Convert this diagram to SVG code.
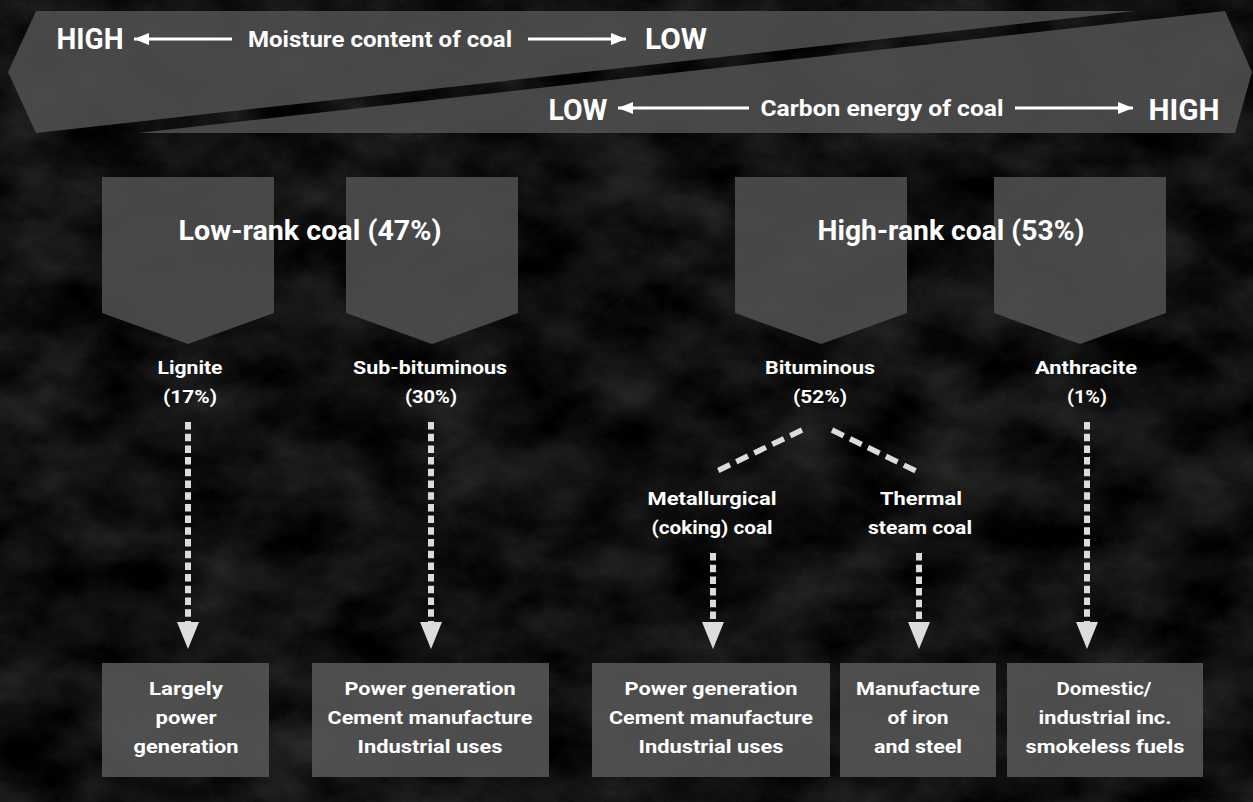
<svg xmlns="http://www.w3.org/2000/svg" width="1253" height="802" viewBox="0 0 1253 802">
<defs>
<filter id="tex" x="0" y="0" width="1253" height="802" filterUnits="userSpaceOnUse" color-interpolation-filters="sRGB">
<feTurbulence type="fractalNoise" baseFrequency="0.012 0.018" numOctaves="5" seed="7" result="n"/>
<feColorMatrix in="n" type="matrix" values="0.24 0 0 0 -0.06  0.24 0 0 0 -0.06  0.24 0 0 0 -0.06  0 0 0 0 1"/>
</filter>
<filter id="grain" x="0" y="0" width="1253" height="802" filterUnits="userSpaceOnUse" color-interpolation-filters="sRGB">
<feTurbulence type="fractalNoise" baseFrequency="0.4" numOctaves="2" seed="2"/>
<feColorMatrix type="matrix" values="0 0 0 0 1  0 0 0 0 1  0 0 0 0 1  0.35 0 0 0 -0.15"/>
</filter>
<marker id="ah" markerUnits="userSpaceOnUse" markerWidth="18" markerHeight="14" refX="15" refY="6" orient="auto">
<path d="M0,0 L15,6 L0,12 z" fill="#ffffff"/>
</marker>
<marker id="dh" markerUnits="userSpaceOnUse" markerWidth="28" markerHeight="24" refX="0" refY="11" orient="auto">
<path d="M0,0 L27,11 L0,22 z" fill="#dcdcdc"/>
</marker>
<style>
.t{font-family:Roboto,"Liberation Sans",sans-serif;font-weight:700;fill:#ffffff;text-anchor:middle}
.big{font-size:29px}
.axis{font-size:22px}
.head{font-size:27px}
.lab{font-size:19px}
.box{font-size:19px}
.shape{fill:#505050;fill-opacity:0.88}
.bx{fill:#565656;fill-opacity:0.88}
.dash{stroke:#dcdcdc;stroke-width:6;fill:none;stroke-dasharray:7.5 4.2}
.diag{stroke:#dcdcdc;stroke-width:5.5;fill:none;stroke-dasharray:13 7}
.arr{stroke:#ffffff;stroke-width:2.8;fill:none}
</style>
</defs>

<rect x="0" y="0" width="1253" height="802" fill="#0e0e0e"/>
<rect x="0" y="0" width="1253" height="802" filter="url(#tex)"/>
<rect x="0" y="0" width="1253" height="802" filter="url(#grain)" opacity="0.12"/>

<g id="banner">
<polygon class="shape" points="36,11 1135,11 36,133 8,72"/>
<polygon class="shape" points="138,133 1225,11 1252,72 1235,133"/>
<text class="t big" x="90" y="49" textLength="67" lengthAdjust="spacingAndGlyphs">HIGH</text>
<text class="t axis" x="380" y="47" textLength="264" lengthAdjust="spacingAndGlyphs">Moisture content of coal</text>
<text class="t big" x="676" y="49" textLength="62" lengthAdjust="spacingAndGlyphs">LOW</text>
<text class="t big" x="578" y="120" textLength="59" lengthAdjust="spacingAndGlyphs">LOW</text>
<text class="t axis" x="882" y="116" textLength="243" lengthAdjust="spacingAndGlyphs">Carbon energy of coal</text>
<text class="t big" x="1184" y="120" textLength="71" lengthAdjust="spacingAndGlyphs">HIGH</text>
</g>

<g id="connectors">
<line class="arr" x1="232" y1="39" x2="134" y2="39" marker-end="url(#ah)"/>
<line class="arr" x1="528" y1="39" x2="626" y2="39" marker-end="url(#ah)"/>
<line class="arr" x1="749" y1="108" x2="618" y2="108" marker-end="url(#ah)"/>
<line class="arr" x1="1015" y1="108" x2="1133" y2="108" marker-end="url(#ah)"/>
<line class="dash" x1="188" y1="422" x2="188" y2="622" marker-end="url(#dh)"/>
<line class="dash" x1="431" y1="422" x2="431" y2="622" marker-end="url(#dh)"/>
<line class="dash" x1="1087" y1="422" x2="1087" y2="622" marker-end="url(#dh)"/>
<line class="dash" x1="713" y1="553" x2="713" y2="622" marker-end="url(#dh)"/>
<line class="dash" x1="919" y1="553" x2="919" y2="622" marker-end="url(#dh)"/>
<line class="diag" x1="802" y1="430" x2="715" y2="472"/>
<line class="diag" x1="832" y1="430" x2="918" y2="472"/>
</g>

<g id="lowrank">
<polygon class="shape" points="102,177 274,177 274,313 188,344 102,313"/>
<polygon class="shape" points="346,177 518,177 518,313 432,344 346,313"/>
<text class="t head" x="310" y="240" textLength="263" lengthAdjust="spacingAndGlyphs">Low-rank coal (47%)</text>
</g>
<g id="highrank">
<polygon class="shape" points="735,177 907,177 907,313 821,344 735,313"/>
<polygon class="shape" points="994,177 1166,177 1166,313 1080,344 994,313"/>
<text class="t head" x="951" y="240" textLength="267" lengthAdjust="spacingAndGlyphs">High-rank coal (53%)</text>
</g>

<g id="lignite">
<text class="t lab" x="190" y="374" textLength="65" lengthAdjust="spacingAndGlyphs">Lignite</text>
<text class="t lab" x="190" y="403" textLength="54" lengthAdjust="spacingAndGlyphs">(17%)</text>
</g>
<g id="subbituminous">
<text class="t lab" x="430" y="374" textLength="154" lengthAdjust="spacingAndGlyphs">Sub-bituminous</text>
<text class="t lab" x="431" y="403" textLength="52" lengthAdjust="spacingAndGlyphs">(30%)</text>
</g>
<g id="bituminous">
<text class="t lab" x="820" y="374" textLength="110" lengthAdjust="spacingAndGlyphs">Bituminous</text>
<text class="t lab" x="820" y="403" textLength="54" lengthAdjust="spacingAndGlyphs">(52%)</text>
</g>
<g id="anthracite">
<text class="t lab" x="1086" y="374" textLength="102" lengthAdjust="spacingAndGlyphs">Anthracite</text>
<text class="t lab" x="1087" y="403" textLength="40" lengthAdjust="spacingAndGlyphs">(1%)</text>
</g>
<g id="metallurgical">
<text class="t lab" x="712" y="505" textLength="129" lengthAdjust="spacingAndGlyphs">Metallurgical</text>
<text class="t lab" x="712" y="534" textLength="121" lengthAdjust="spacingAndGlyphs">(coking) coal</text>
</g>
<g id="thermal">
<text class="t lab" x="921" y="505" textLength="82" lengthAdjust="spacingAndGlyphs">Thermal</text>
<text class="t lab" x="920" y="534" textLength="104" lengthAdjust="spacingAndGlyphs">steam coal</text>
</g>

<g id="use-lignite">
<rect class="bx" x="102" y="663" width="167" height="114"/>
<text class="t box" x="186" y="695" textLength="74" lengthAdjust="spacingAndGlyphs">Largely</text>
<text class="t box" x="186" y="724" textLength="61" lengthAdjust="spacingAndGlyphs">power</text>
<text class="t box" x="186" y="753" textLength="105" lengthAdjust="spacingAndGlyphs">generation</text>
</g>
<g id="use-subbituminous">
<rect class="bx" x="312" y="663" width="237" height="114"/>
<text class="t box" x="430" y="695" textLength="171" lengthAdjust="spacingAndGlyphs">Power generation</text>
<text class="t box" x="430" y="724" textLength="205" lengthAdjust="spacingAndGlyphs">Cement manufacture</text>
<text class="t box" x="430" y="753" textLength="145" lengthAdjust="spacingAndGlyphs">Industrial uses</text>
</g>
<g id="use-metallurgical">
<rect class="bx" x="592" y="663" width="238" height="114"/>
<text class="t box" x="711" y="695" textLength="173" lengthAdjust="spacingAndGlyphs">Power generation</text>
<text class="t box" x="711" y="724" textLength="204" lengthAdjust="spacingAndGlyphs">Cement manufacture</text>
<text class="t box" x="711" y="753" textLength="145" lengthAdjust="spacingAndGlyphs">Industrial uses</text>
</g>
<g id="use-thermal">
<rect class="bx" x="840" y="663" width="156" height="114"/>
<text class="t box" x="918" y="695" textLength="124" lengthAdjust="spacingAndGlyphs">Manufacture</text>
<text class="t box" x="918" y="724" textLength="61" lengthAdjust="spacingAndGlyphs">of iron</text>
<text class="t box" x="918" y="753" textLength="88" lengthAdjust="spacingAndGlyphs">and steel</text>
</g>
<g id="use-anthracite">
<rect class="bx" x="1007" y="663" width="196" height="114"/>
<text class="t box" x="1104" y="695" textLength="95" lengthAdjust="spacingAndGlyphs">Domestic/</text>
<text class="t box" x="1105" y="724" textLength="133" lengthAdjust="spacingAndGlyphs">industrial inc.</text>
<text class="t box" x="1105" y="753" textLength="159" lengthAdjust="spacingAndGlyphs">smokeless fuels</text>
</g>
</svg>
